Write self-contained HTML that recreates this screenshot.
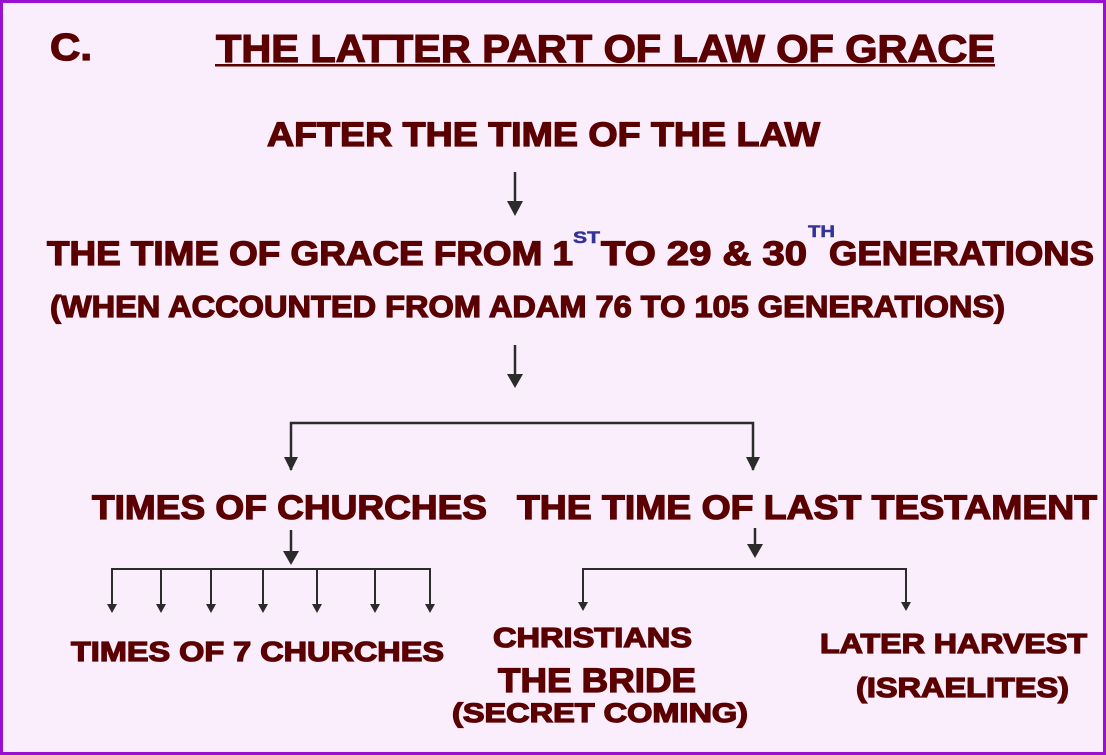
<!DOCTYPE html>
<html><head><style>
html,body{margin:0;padding:0;background:#fbeefc;}
svg{display:block}
text{font-family:"Liberation Sans",Arial,sans-serif;font-weight:bold;fill:#5a0000;stroke:#5a0000;stroke-width:1.3px;}
</style></head><body>
<svg width="1106" height="755" viewBox="0 0 1106 755" xmlns="http://www.w3.org/2000/svg">
<rect x="1.5" y="1.5" width="1103" height="752" fill="#fbeefc" stroke="#9a10d0" stroke-width="3"/>
<text x="50" y="60" font-size="38" textLength="42" lengthAdjust="spacingAndGlyphs">C.</text>
<text x="216" y="62" font-size="39" textLength="779" lengthAdjust="spacingAndGlyphs">THE LATTER PART OF LAW OF GRACE</text>
<rect x="215" y="64" width="780" height="2.5" fill="#5a0000"/>
<text x="267" y="146" font-size="34" textLength="553" lengthAdjust="spacingAndGlyphs">AFTER THE TIME OF THE LAW</text>
<g stroke="#2b2b2b" stroke-width="2.5" fill="none">
<line x1="515" y1="172" x2="515" y2="203"/>
<line x1="515" y1="345" x2="515" y2="376"/>
<polyline points="291,470 291,423 753,423 753,470" />
<line x1="291" y1="530" x2="291" y2="553"/>
<line x1="755" y1="528" x2="755" y2="546"/>
<polyline points="112,605 112,569 430,569 430,605" stroke-width="2"/>
<g stroke-width="2"><line x1="161" y1="569" x2="161" y2="605"/><line x1="211" y1="569" x2="211" y2="605"/><line x1="263" y1="569" x2="263" y2="605"/><line x1="317" y1="569" x2="317" y2="605"/><line x1="375" y1="569" x2="375" y2="605"/></g>
<polyline points="583,603 583,569 906,569 906,603" stroke-width="2"/>
</g>
<g fill="#2b2b2b">
<path d="M507,201 L523,201 L515,216 z"/>
<path d="M507,374 L523,374 L515,388 z"/>
<path d="M284,457 L298,457 L291,471 z"/>
<path d="M746,457 L760,457 L753,471 z"/>
<path d="M283,551 L299,551 L291,565 z"/>
<path d="M747,544 L763,544 L755,558 z"/>
<path d="M107,604 L117,604 L112,613 z"/><path d="M156,604 L166,604 L161,613 z"/><path d="M206,604 L216,604 L211,613 z"/><path d="M258,604 L268,604 L263,613 z"/><path d="M312,604 L322,604 L317,613 z"/><path d="M370,604 L380,604 L375,613 z"/><path d="M425,604 L435,604 L430,613 z"/>
<path d="M578,602 L588,602 L583,611 z"/><path d="M901,602 L911,602 L906,611 z"/>
</g>
<text x="47" y="265" font-size="34" textLength="526" lengthAdjust="spacingAndGlyphs">THE TIME OF GRACE FROM 1</text>
<text x="573" y="243" font-size="17" style="fill:#333399;stroke:#333399;stroke-width:0.5px" textLength="27" lengthAdjust="spacingAndGlyphs">ST</text>
<text x="601" y="265" font-size="34" textLength="206" lengthAdjust="spacingAndGlyphs">TO 29 &amp; 30</text>
<text x="808" y="237" font-size="17" style="fill:#333399;stroke:#333399;stroke-width:0.5px" textLength="27" lengthAdjust="spacingAndGlyphs">TH</text>
<text x="829" y="265" font-size="34" textLength="265" lengthAdjust="spacingAndGlyphs">GENERATIONS</text>
<text x="50" y="317" font-size="31" textLength="955" lengthAdjust="spacingAndGlyphs">(WHEN ACCOUNTED FROM ADAM 76 TO 105 GENERATIONS)</text>
<text x="92" y="519" font-size="34" textLength="395" lengthAdjust="spacingAndGlyphs">TIMES OF CHURCHES</text>
<text x="517" y="519" font-size="34" textLength="580" lengthAdjust="spacingAndGlyphs">THE TIME OF LAST TESTAMENT</text>
<text x="71" y="661" font-size="28" textLength="373" lengthAdjust="spacingAndGlyphs">TIMES OF 7 CHURCHES</text>
<text x="493" y="647" font-size="28" textLength="199" lengthAdjust="spacingAndGlyphs">CHRISTIANS</text>
<text x="498" y="692" font-size="34" textLength="198" lengthAdjust="spacingAndGlyphs">THE BRIDE</text>
<text x="452" y="722" font-size="27" textLength="296" lengthAdjust="spacingAndGlyphs">(SECRET COMING)</text>
<text x="820" y="653" font-size="28" textLength="267" lengthAdjust="spacingAndGlyphs">LATER HARVEST</text>
<text x="856" y="697" font-size="28" textLength="213" lengthAdjust="spacingAndGlyphs">(ISRAELITES)</text>
</svg>
</body></html>
